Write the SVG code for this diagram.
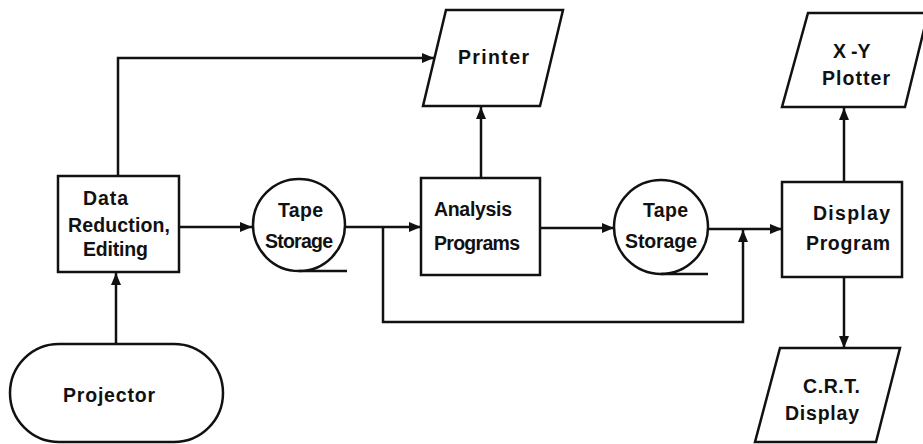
<svg xmlns="http://www.w3.org/2000/svg" width="923" height="444" viewBox="0 0 923 444">
<style>
.s{fill:#fff;stroke:#111;stroke-width:2.5;stroke-linejoin:miter}
.c{fill:none;stroke:#111;stroke-width:2.5}
.t{font-family:"Liberation Sans",Arial,sans-serif;font-weight:bold;font-size:19.5px;fill:#111}
</style>
<defs>
<marker id="ah" markerUnits="userSpaceOnUse" markerWidth="13" markerHeight="11" refX="12" refY="5" orient="auto">
<path d="M0,0 L12,5 L0,10 z" fill="#111"/>
</marker>
</defs>
<rect width="923" height="444" fill="#fff"/>
<g id="connectors">
<path class="c" d="M118,176 V58 H434" marker-end="url(#ah)"/>
<path class="c" d="M179,227 H252" marker-end="url(#ah)"/>
<path class="c" d="M346,227 H421" marker-end="url(#ah)"/>
<path class="c" d="M383,227 V322 H743 V230" marker-end="url(#ah)"/>
<path class="c" d="M540,228 H614" marker-end="url(#ah)"/>
<path class="c" d="M708,229 H782" marker-end="url(#ah)"/>
<path class="c" d="M116,344 V273" marker-end="url(#ah)"/>
<path class="c" d="M481,178 V107" marker-end="url(#ah)"/>
<path class="c" d="M844,182 V108" marker-end="url(#ah)"/>
<path class="c" d="M844,277 V348" marker-end="url(#ah)"/>
</g>
<g id="data-reduction">
<rect class="s" x="58" y="176" width="121" height="96"/>
<text class="t" x="83" y="205" textLength="45" lengthAdjust="spacing">Data</text>
<text class="t" x="68" y="232" textLength="102" lengthAdjust="spacing">Reduction,</text>
<text class="t" x="83" y="256" textLength="65" lengthAdjust="spacing">Editing</text>
</g>
<g id="projector">
<rect class="s" x="10" y="344" width="213" height="98" rx="49" ry="49"/>
<text class="t" x="63" y="402" textLength="92" lengthAdjust="spacing">Projector</text>
</g>
<g id="tape1">
<circle class="s" cx="299" cy="225" r="46"/>
<path class="c" d="M299,271 H347"/>
<text class="t" x="278" y="217" textLength="45" lengthAdjust="spacing">Tape</text>
<text class="t" x="265" y="248" textLength="68" lengthAdjust="spacing">Storage</text>
</g>
<g id="analysis">
<rect class="s" x="421" y="178" width="119" height="97"/>
<text class="t" x="434" y="216" textLength="78" lengthAdjust="spacing">Analysis</text>
<text class="t" x="434" y="250" textLength="86" lengthAdjust="spacing">Programs</text>
</g>
<g id="printer">
<polygon class="s" points="446,10 563,10 540,106 423,106"/>
<text class="t" x="458" y="64" textLength="71" lengthAdjust="spacing">Printer</text>
</g>
<g id="tape2">
<circle class="s" cx="661" cy="227" r="47"/>
<path class="c" d="M661,274 H708"/>
<text class="t" x="643" y="217" textLength="45" lengthAdjust="spacing">Tape</text>
<text class="t" x="625" y="248" textLength="72" lengthAdjust="spacing">Storage</text>
</g>
<g id="display-program">
<rect class="s" x="782" y="182" width="120" height="95"/>
<text class="t" x="813" y="220" textLength="77" lengthAdjust="spacing">Display</text>
<text class="t" x="806" y="250" textLength="84" lengthAdjust="spacing">Program</text>
</g>
<g id="plotter">
<polygon class="s" points="808,13 928,13 905,107 782,107"/>
<text class="t" x="833" y="58">X<tspan dx="5">-</tspan>Y</text>
<text class="t" x="822" y="85" textLength="68" lengthAdjust="spacing">Plotter</text>
</g>
<g id="crt">
<polygon class="s" points="780,348 900,348 876,442 755,442"/>
<text class="t" x="803" y="393" textLength="57" lengthAdjust="spacing">C.R.T.</text>
<text class="t" x="785" y="420" textLength="74" lengthAdjust="spacing">Display</text>
</g>
</svg>
